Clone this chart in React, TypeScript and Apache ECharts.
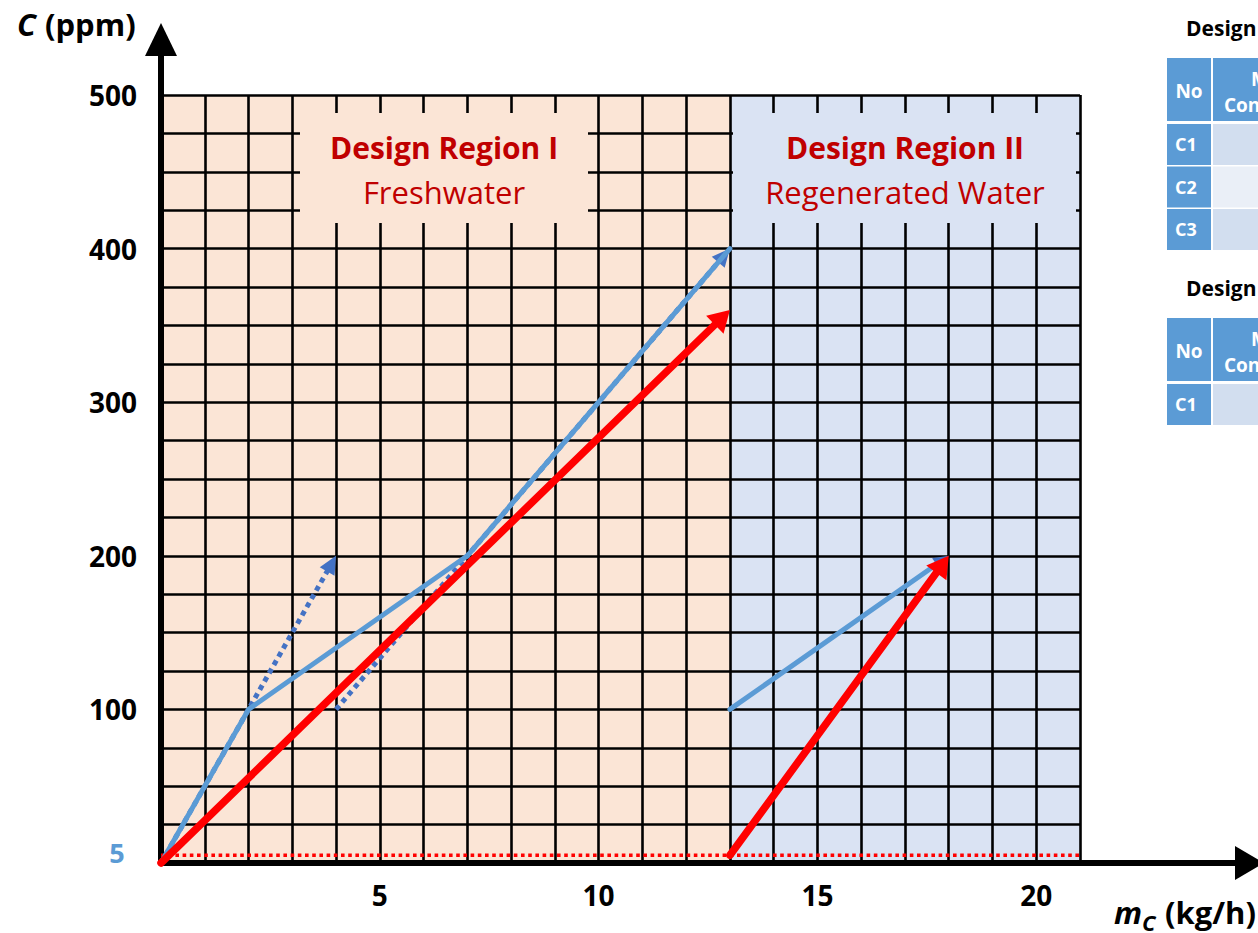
import React, { useEffect, useRef } from 'react';
import * as echarts from 'echarts';

// ---------- data ----------
const xTickLabels = [5, 10, 15, 20];
const yTickLabels = [100, 200, 300, 400, 500];
const xMax = 21;
const yMax = 500;

const regionBounds = [[0, 13], [13, 21]];
const regionNames = ['Design Region I', 'Design Region II'];
const regionSubNames = ['Freshwater', 'Regenerated Water'];

const limitingComposite = [[0, 0], [2, 100], [7, 200], [13, 400]];
const streamA = [[0, 0], [2, 100], [4, 200]];
const streamB = [[4, 100], [13, 400]];
const regenComposite = [[13, 100], [18, 200]];
const freshSupply = [[0, 0], [13, 360]];
const regenSupply = [[13, 5], [18, 200]];
const freshConc = [[0, 5], [21, 5]];
const freshConcLabel = '5';

const tableTitles = ['Design Region I', 'Design Region II'];
const tableHeader = ['No', 'Max', 'Concentration'];
const table1Rows = ['C1', 'C2', 'C3'];
const table2Rows = ['C1'];

// ---------- styles ----------
const FONT = '"Open Sans", Lato, sans-serif';
const BLUE = '#5B9BD5';
const BLUE_DARK = '#4472C4';
const RED = '#FF0000';
const DARK_RED = '#C00000';
const REGION_COLORS = ['#FBE5D6', '#DAE3F3'];
const G = { left: 161, top: 95, right: 1080, bottom: 863 };

function arrowSeries(pts: number[][], color: string, width: number, dash: any, head: any, z: number) {
  return {
    type: 'custom',
    coordinateSystem: 'cartesian2d',
    z,
    clip: false,
    silent: true,
    data: pts,
    encode: { x: 0, y: 1 },
    renderItem: (params: any, api: any) => {
      if (params.dataIndex !== pts.length - 1) return { type: 'group', children: [] };
      const P = pts.map((p) => api.coord(p));
      const children: any[] = [];
      const tip = P[P.length - 1];
      const prev = P[P.length - 2];
      const lineStyle = { stroke: color, lineWidth: width, lineDash: dash, fill: null, lineJoin: 'round', lineCap: dash ? 'butt' : 'round' };
      if (head) {
        const dx = tip[0] - prev[0];
        const dy = tip[1] - prev[1];
        const L = Math.hypot(dx, dy);
        const ux = dx / L, uy = dy / L;
        const nx = -uy, ny = ux;
        const bx = tip[0] - ux * head.len, by = tip[1] - uy * head.len;
        P[P.length - 1] = [tip[0] - ux * head.len * 0.6, tip[1] - uy * head.len * 0.6];
        children.push({ type: 'polyline', shape: { points: P }, style: lineStyle });
        children.push({
          type: 'polygon',
          shape: {
            points: [
              [tip[0], tip[1]],
              [bx + nx * head.w / 2, by + ny * head.w / 2],
              [bx - nx * head.w / 2, by - ny * head.w / 2],
            ],
          },
          style: { fill: head.color || color, stroke: null },
        });
      } else {
        children.push({ type: 'polyline', shape: { points: P }, style: lineStyle });
      }
      return { type: 'group', children };
    },
  };
}

function buildTable(top: number, title: string, rows: string[]) {
  const els: any[] = [];
  const x0 = 1167, noW = 44, c2x = 1213, c2w = 120;
  els.push({ type: 'text', x: 1186, y: top - 30, style: { text: title, font: `bold 21px ${FONT}`, fill: '#000', verticalAlign: 'middle' } });
  els.push({ type: 'rect', shape: { x: x0, y: top, width: noW, height: 63 }, style: { fill: BLUE } });
  els.push({ type: 'rect', shape: { x: c2x, y: top, width: c2w, height: 63 }, style: { fill: BLUE } });
  els.push({ type: 'text', x: x0 + noW / 2, y: top + 33, style: { text: tableHeader[0], font: `bold 19px ${FONT}`, fill: '#fff', align: 'center', verticalAlign: 'middle' } });
  els.push({ type: 'text', x: 1251, y: top + 21, style: { text: tableHeader[1], font: `bold 19px ${FONT}`, fill: '#fff', verticalAlign: 'middle' } });
  els.push({ type: 'text', x: 1224, y: top + 47, style: { text: tableHeader[2], font: `bold 19px ${FONT}`, fill: '#fff', verticalAlign: 'middle' } });
  rows.forEach((r, i) => {
    const y = top + 66 + i * 42.5;
    els.push({ type: 'rect', shape: { x: x0, y, width: noW, height: 41 }, style: { fill: BLUE } });
    els.push({ type: 'rect', shape: { x: c2x, y, width: c2w, height: 41 }, style: { fill: i % 2 === 0 ? '#D2DEEF' : '#EAEFF7' } });
    els.push({ type: 'text', x: x0 + 8, y: y + 20, style: { text: r, font: `bold 18px ${FONT}`, fill: '#fff', verticalAlign: 'middle' } });
  });
  return els;
}

export default function App() {
  const ref = useRef<HTMLDivElement>(null);
  useEffect(() => {
    if (!ref.current) return;
    const chart = echarts.init(ref.current, null, { renderer: 'svg' });

    const regionSeries = {
      type: 'custom',
      coordinateSystem: 'cartesian2d',
      z: -1,
      silent: true,
      data: regionBounds,
      encode: { x: [0, 1] },
      renderItem: (params: any, api: any) => {
        const a = api.coord([api.value(0), yMax]);
        const b = api.coord([api.value(1), 0]);
        return {
          type: 'rect',
          shape: { x: a[0], y: a[1], width: b[0] - a[0], height: b[1] - a[1] },
          style: { fill: REGION_COLORS[params.dataIndex] },
        };
      },
    };

    const freshConcSeries = {
      type: 'custom',
      coordinateSystem: 'cartesian2d',
      z: 2,
      clip: false,
      silent: true,
      data: freshConc,
      encode: { x: 0, y: 1 },
      renderItem: (params: any, api: any) => {
        if (params.dataIndex !== freshConc.length - 1) return { type: 'group', children: [] };
        const P = freshConc.map((p) => api.coord(p));
        return {
          type: 'group',
          children: [
            { type: 'polyline', shape: { points: P }, style: { stroke: RED, lineWidth: 3.4, lineDash: [3.6, 3.6], fill: null } },
            { type: 'text', x: P[0][0] - 44, y: P[0][1] - 3, style: { text: freshConcLabel, font: `bold 27px ${FONT}`, fill: BLUE, align: 'center', verticalAlign: 'middle' } },
          ],
        };
      },
    };

    const boxes: any[] = [];
    const boxDefs = [
      { x: 300, w: 288, cx: 444 },
      { x: 733, w: 343, cx: 905 },
    ];
    boxDefs.forEach((b, i) => {
      boxes.push({ type: 'rect', z: 10, shape: { x: b.x, y: 113, width: b.w, height: 110 }, style: { fill: REGION_COLORS[i] } });
      boxes.push({ type: 'text', z: 11, x: b.cx, y: 147, style: { text: regionNames[i], font: `bold 30px ${FONT}`, fill: DARK_RED, align: 'center', verticalAlign: 'middle' } });
      boxes.push({ type: 'text', z: 11, x: b.cx, y: 192, style: { text: regionSubNames[i], font: `31px ${FONT}`, fill: DARK_RED, align: 'center', verticalAlign: 'middle' } });
    });

    const axisGraphics: any[] = [
      { type: 'line', z: 5, shape: { x1: G.left, y1: G.top + 2, x2: G.left, y2: 50 }, style: { stroke: '#000', lineWidth: 6 } },
      { type: 'polygon', z: 5, shape: { points: [[G.left, 23], [G.left - 16, 56], [G.left + 16, 56]] }, style: { fill: '#000' } },
      { type: 'line', z: 5, shape: { x1: G.right - 2, y1: G.bottom, x2: 1240, y2: G.bottom }, style: { stroke: '#000', lineWidth: 6 } },
      { type: 'polygon', z: 5, shape: { points: [[1264, G.bottom], [1235, G.bottom - 17], [1235, G.bottom + 17]] }, style: { fill: '#000' } },
      { type: 'text', z: 5, x: 17, y: 24, style: { text: 'C', font: `italic bold 31px ${FONT}`, fill: '#000', verticalAlign: 'middle' } },
      { type: 'text', z: 5, x: 45, y: 24, style: { text: '(ppm)', font: `bold 31px ${FONT}`, fill: '#000', verticalAlign: 'middle' } },
      { type: 'text', z: 5, x: 1114, y: 912, style: { text: 'm', font: `italic bold 31px ${FONT}`, fill: '#000', verticalAlign: 'middle' } },
      { type: 'text', z: 5, x: 1142, y: 922, style: { text: 'C', font: `italic bold 22px ${FONT}`, fill: '#000', verticalAlign: 'middle' } },
      { type: 'text', z: 5, x: 1165, y: 912, style: { text: '(kg/h)', font: `bold 31px ${FONT}`, fill: '#000', verticalAlign: 'middle' } },
    ];

    const tables = [...buildTable(58, tableTitles[0], table1Rows), ...buildTable(318, tableTitles[1], table2Rows)];

    chart.setOption({
      animation: false,
      backgroundColor: '#fff',
      grid: { left: G.left, top: G.top, width: G.right - G.left, height: G.bottom - G.top, containLabel: false, outerBoundsMode: 'none' },
      xAxis: {
        type: 'value', min: 0, max: xMax, interval: 1,
        axisLine: { show: true, onZero: false, lineStyle: { color: '#000', width: 6 } },
        axisTick: { show: false },
        splitLine: { show: true, lineStyle: { color: '#000', width: 2.6 } },
        axisLabel: {
          formatter: (v: number) => (xTickLabels.includes(v) ? String(v) : ''),
          fontFamily: FONT, fontSize: 28, fontWeight: 'bold', color: '#000', margin: 18,
        },
      },
      yAxis: {
        type: 'value', min: 0, max: yMax, interval: 25,
        axisLine: { show: true, onZero: false, lineStyle: { color: '#000', width: 6 } },
        axisTick: { show: false },
        splitLine: { show: true, lineStyle: { color: '#000', width: 2.6 } },
        axisLabel: {
          formatter: (v: number) => (yTickLabels.includes(v) ? String(v) : ''),
          fontFamily: FONT, fontSize: 28, fontWeight: 'bold', color: '#000', margin: 24,
        },
      },
      graphic: [...boxes, ...axisGraphics, ...tables],
      series: [
        regionSeries,
        freshConcSeries,
        arrowSeries(streamA, BLUE_DARK, 5, [5, 4.5], { len: 18, w: 17 }, 3),
        arrowSeries(streamB, BLUE_DARK, 5, [5, 4.5], { len: 18, w: 17 }, 3),
        arrowSeries(limitingComposite, BLUE, 5, null, null, 4),
        arrowSeries(regenComposite, BLUE, 5, null, { len: 15, w: 15, color: BLUE_DARK }, 4),
        arrowSeries(freshSupply, RED, 7.5, null, { len: 21, w: 25 }, 5),
        arrowSeries(regenSupply, RED, 7.5, null, { len: 21, w: 25 }, 5),
      ],
    });
    return () => chart.dispose();
  }, []);
  return <div ref={ref} style={{ position: 'fixed', left: 0, top: 0, width: 1258, height: 933, background: '#fff' }} />;
}
